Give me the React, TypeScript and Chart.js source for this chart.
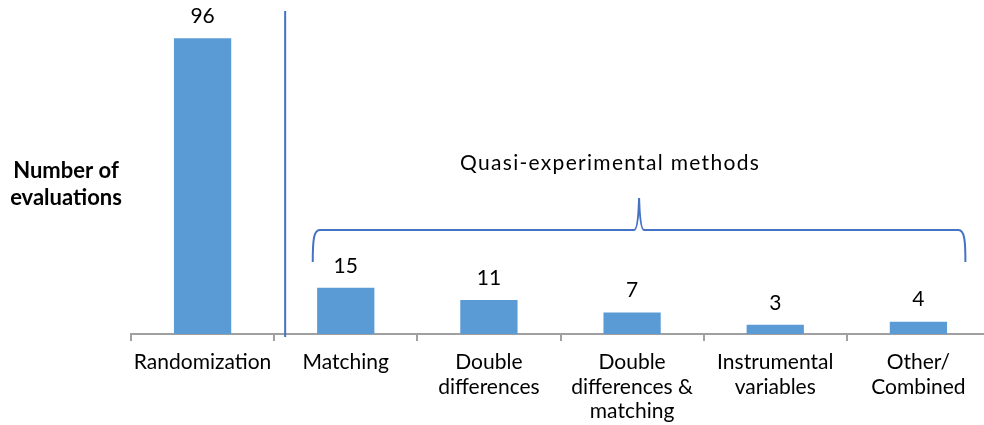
import React, { useEffect, useRef } from "react";
import { Chart, registerables } from "chart.js";

Chart.register(...registerables);

const categories: string[][] = [
  ["Randomization"],
  ["Matching"],
  ["Double", "differences"],
  ["Double", "differences &", "matching"],
  ["Instrumental", "variables"],
  ["Other/", "Combined"],
];
const values: number[] = [96, 15, 11, 7, 3, 4];
const yTitleLines: string[] = ["Number of", "evaluations"];
const groupLabel = "Quasi-experimental methods";

const FONT = "Lato, 'Open Sans', sans-serif";
const BAR_COLOR = "#5B9BD5";
const ACCENT = "#4472C4";
const AXIS_GRAY = "#A0A0A0";

const overlayPlugin = {
  id: "overlay",
  afterDraw(chart: any) {
    const ctx: CanvasRenderingContext2D = chart.ctx;
    const xs = chart.scales.x;
    const area = chart.chartArea;
    ctx.save();

    // value labels
    const meta = chart.getDatasetMeta(0);
    ctx.font = `21px ${FONT}`;
    ctx.fillStyle = "#000";
    ctx.textAlign = "center";
    ctx.textBaseline = "middle";
    meta.data.forEach((bar: any, i: number) => {
      ctx.fillText(String(values[i]), bar.x, bar.y - 22);
    });

    // separator line between randomization and quasi-experimental
    const sepX = (xs.getPixelForValue(0) + xs.getPixelForValue(1)) / 2 + 11;
    ctx.strokeStyle = ACCENT;
    ctx.lineWidth = 2;
    ctx.beginPath();
    ctx.moveTo(sepX, 11);
    ctx.lineTo(sepX, area.bottom + 3);
    ctx.stroke();

    // brace
    const left = xs.getPixelForValue(1) - 33;
    const right = xs.getPixelForValue(5) + 47;
    const mid = (left + right) / 2;
    const yH = 230;
    const yEnd = 262;
    const yPeak = 198;
    ctx.beginPath();
    ctx.moveTo(left, yEnd);
    ctx.bezierCurveTo(left, yH + 10, left + 1, yH, left + 7, yH);
    ctx.lineTo(mid - 5, yH);
    ctx.quadraticCurveTo(mid - 1, yH, mid, yPeak);
    ctx.quadraticCurveTo(mid + 1, yH, mid + 5, yH);
    ctx.lineTo(right - 7, yH);
    ctx.bezierCurveTo(right - 1, yH, right, yH + 10, right, yEnd);
    ctx.stroke();

    // group label
    ctx.fillStyle = "#000";
    ctx.textBaseline = "alphabetic";
    ctx.font = `21px ${FONT}`;
    (ctx as any).letterSpacing = "1.3px";
    ctx.fillText(groupLabel, mid - 29, 170);
    (ctx as any).letterSpacing = "0px";

    // y title
    ctx.font = `bold 22px ${FONT}`;
    ctx.fillText(yTitleLines[0], 66, 178);
    ctx.fillText(yTitleLines[1], 66, 205);

    ctx.restore();
  },
};

export default function App() {
  const canvasRef = useRef<HTMLCanvasElement | null>(null);

  useEffect(() => {
    if (!canvasRef.current) return;
    const chart = new Chart(canvasRef.current, {
      type: "bar",
      data: {
        labels: categories,
        datasets: [
          {
            data: values,
            backgroundColor: BAR_COLOR,
            borderWidth: 0,
            barPercentage: 0.4,
            categoryPercentage: 1,
          },
        ],
      },
      options: {
        animation: false,
        responsive: false,
        devicePixelRatio: 1,
        layout: { padding: { left: 131, right: 2, top: 26, bottom: 1 } },
        plugins: {
          legend: { display: false },
          tooltip: { enabled: false },
          title: { display: false },
        },
        scales: {
          x: {
            type: "category",
            offset: true,
            afterFit: (s: any) => {
              s.height = 90;
            },
            grid: {
              offset: true,
              drawOnChartArea: false,
              drawTicks: true,
              tickLength: 7,
              color: AXIS_GRAY,
              lineWidth: 2,
            },
            border: { display: true, color: AXIS_GRAY, width: 2 },
            ticks: {
              color: "#000",
              padding: 9,
              maxRotation: 0,
              autoSkip: false,
              font: { family: FONT, size: 21, lineHeight: 1.167 },
            },
          },
          y: {
            display: false,
            min: 0,
            max: 100,
          },
        },
      },
      plugins: [overlayPlugin],
    });
    return () => chart.destroy();
  }, []);

  return (
    <div
      style={{
        position: "absolute",
        left: 0,
        top: 0,
        width: 984,
        height: 425,
        overflow: "hidden",
        background: "#fff",
      }}
    >
      <canvas
        ref={canvasRef}
        width={992}
        height={425}
        style={{ width: 992, height: 425, display: "block" }}
      />
    </div>
  );
}
